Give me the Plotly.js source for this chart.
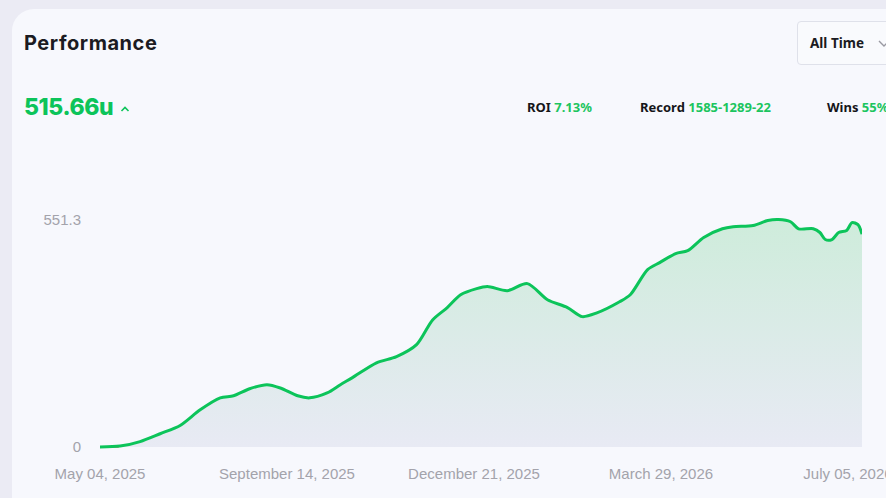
<!DOCTYPE html>
<html>
<head>
<meta charset="utf-8">
<script src="https://cdn.plot.ly/plotly-3.0.1.min.js"></script>
<style>
  html, body { margin:0; padding:0; width:886px; height:498px; overflow:hidden; background:#ebebf4; font-family:"Noto Sans", sans-serif; }
  #card { position:absolute; left:12px; top:9px; width:900px; height:520px; background:#f7f8fd; border-radius:22px; }
  #title { position:absolute; left:24px; top:31px; font-family:Inter, sans-serif; font-weight:700; font-size:20px; color:#1b1b22; letter-spacing:0.55px; }
  #total { position:absolute; left:24px; top:93px; font-family:Inter, sans-serif; font-weight:800; font-size:23px; color:#0cc45a; letter-spacing:-0.4px; }
  #caret { position:absolute; left:120px; top:105px; }
  #dd { position:absolute; left:797px; top:21px; width:120px; height:42px; border:1px solid #dfe1ea; border-radius:4px; background:#f9fafd; }
  #ddtext { position:absolute; left:12px; top:12px; font-family:"Noto Sans", sans-serif; font-weight:700; font-size:13.5px; color:#1b1b22; }
  .stat { position:absolute; top:98px; font-family:"Noto Sans", sans-serif; font-weight:700; font-size:13px; color:#151519; white-space:nowrap; }
  .stat span { color:#1cc55f; }
  #plot { position:absolute; left:0; top:0; width:886px; height:498px; }
</style>
</head>
<body>
<div id="card"></div>
<div id="title">Performance</div>
<div id="total">515.66u</div>
<svg id="caret" width="10" height="8"><polyline points="1.5,6 5,2.5 8.5,6" fill="none" stroke="#0cc45a" stroke-width="1.6"/></svg>
<div id="dd"><div id="ddtext">All Time</div>
  <svg style="position:absolute;left:80px;top:17px" width="12" height="10"><polyline points="1,2 6,7 11,2" fill="none" stroke="#9a9aa2" stroke-width="1.4"/></svg>
</div>
<div class="stat" style="left:527px">ROI <span>7.13%</span></div>
<div class="stat" style="left:640px">Record <span>1585-1289-22</span></div>
<div class="stat" style="left:827px">Wins <span>55%</span></div>
<div id="plot"></div>
<script>
// Week index since May 04, 2025 (axis position) and cumulative units
const weeks = [0,1.5,3.0,4.5,6.0,7.5,9.0,10.0,11.2,12.5,13.5,14.8,15.7,17.0,18.0,18.9,20.7,22.2,23.7,24.9,26.0,27.0,28.2,29.0,30.5,32.0,33.5,35.0,36.1,37.2,38.9,39.7,41.0,41.9,43.1,44.0,45.2,46.6,47.4,48.9,50.0,50.8,51.7,52.3,53.4,53.9,54.3,54.8,55.3,55.9,56.3,56.75,57.05];
const units = [0,2,13,32,52,90,119,124,141,151,143,124,119,131,151,168,204,219,248,308,338,369,384,389,379,396,357,338,316,325,352,369,430,447,469,476,508,529,534,537,549,551.3,546,529,529,520,503,503,520,525,544,539,516];
const lossWeeks = [0,1.4];
const lossUnits = [0,0];
const tickWeeks = [0,14,28,42,56];
const tickLabels = ["May 04, 2025","September 14, 2025","December 21, 2025","March 29, 2026","July 05, 2026"];
const yTicks = [0,551.3];
const yTickLabels = ["0","551.3"];

const lossTrace = {
  x: lossWeeks, y: lossUnits, type:'scatter', mode:'lines',
  line:{color:'#e0504a', width:1.5}, hoverinfo:'skip'
};
const trace = {
  x: weeks, y: units, type:'scatter', mode:'lines',
  line:{color:'#0cc45a', width:3, shape:'spline', smoothing:0.8},
  fill:'tozeroy',
  fillgradient:{type:'vertical', start:0, stop:551.3, colorscale:[[0,'rgb(232,234,244)'],[1,'rgb(206,236,219)']]},
  hoverinfo:'skip'
};
const layout = {
  width:886, height:498,
  margin:{l:100, r:24, t:216, b:49, pad:0},
  paper_bgcolor:'rgba(0,0,0,0)', plot_bgcolor:'rgba(0,0,0,0)',
  showlegend:false,
  font:{family:'"Liberation Sans", Arial, sans-serif', size:15, color:'#a3a3ab'},
  xaxis:{range:[0,57.05], tickvals:tickWeeks, ticktext:tickLabels, showgrid:false, zeroline:false, showline:false, ticks:'', ticklabelstandoff:14, ticklabeloverflow:'allow', fixedrange:true},
  yaxis:{range:[-5,560], tickvals:yTicks, ticktext:yTickLabels, showgrid:false, zeroline:false, showline:false, ticks:'', ticklabelstandoff:18, fixedrange:true}
};
Plotly.newPlot('plot', [lossTrace, trace], layout, {displayModeBar:false, staticPlot:true});
</script>
</body>
</html>
